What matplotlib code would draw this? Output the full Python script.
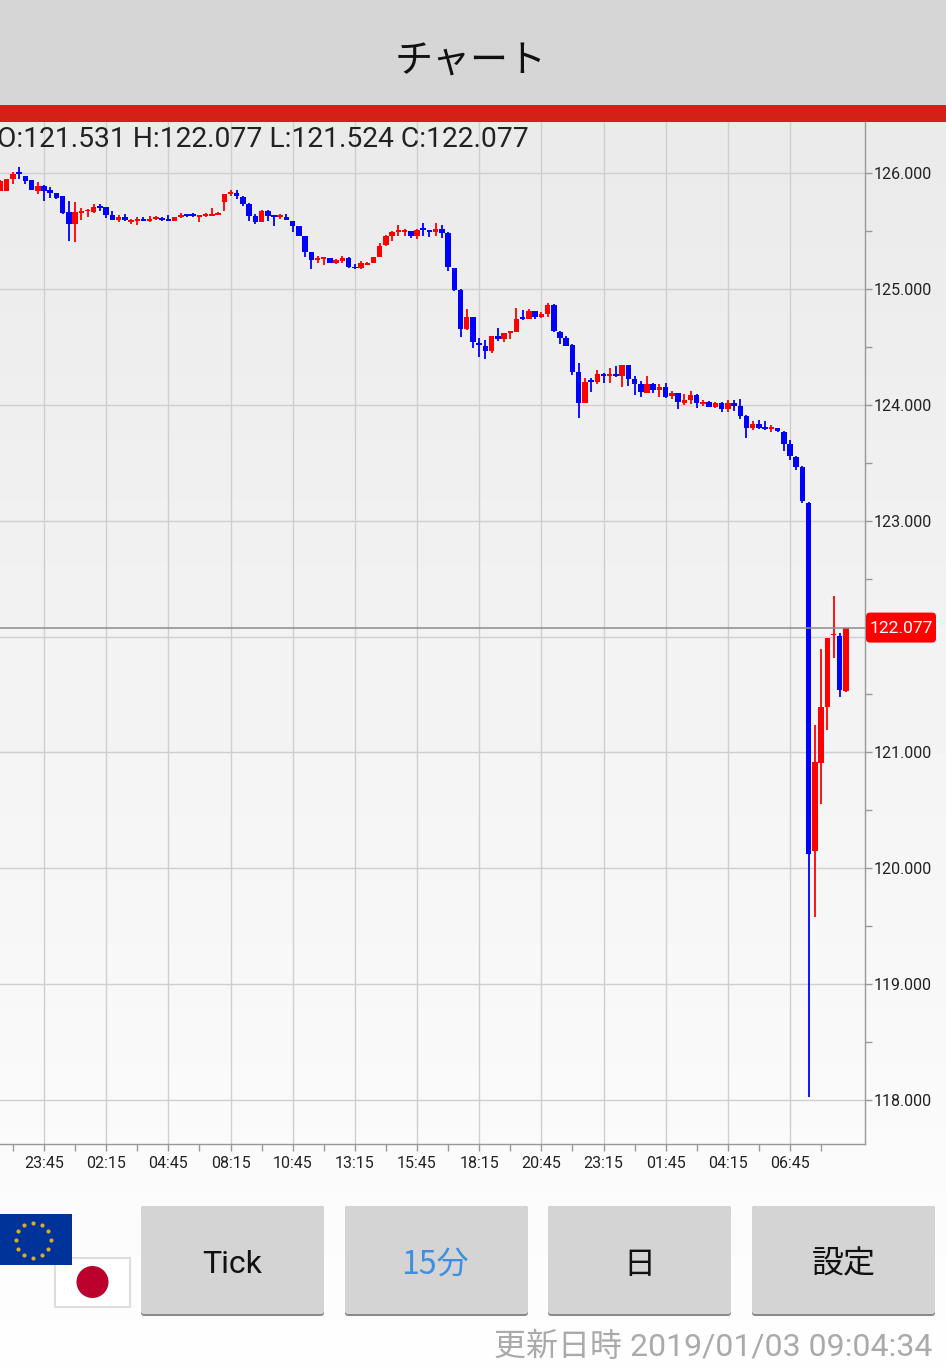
# -*- coding: utf-8 -*-
import numpy as np
import matplotlib
matplotlib.use("Agg")
import matplotlib.pyplot as plt
from matplotlib.patches import Rectangle, FancyBboxPatch, Circle

W, H = 946, 1367

# candles, 15 min each, oldest first
opens = [125.845, 125.848, 125.945, 126.000, 125.977, 125.940, 125.848, 125.891, 125.856, 125.825,
         125.799, 125.661, 125.560, 125.658, 125.669, 125.664, 125.704, 125.704, 125.641, 125.597,
         125.618, 125.580, 125.586, 125.594, 125.586, 125.600, 125.609, 125.597, 125.586, 125.623,
         125.632, 125.632, 125.623, 125.632, 125.629, 125.641, 125.753, 125.819, 125.825, 125.796,
         125.733, 125.629, 125.577, 125.675, 125.623, 125.618, 125.620, 125.590, 125.544, 125.460,
         125.314, 125.250, 125.259, 125.265, 125.224, 125.239, 125.270, 125.181, 125.178, 125.210,
         125.224, 125.279, 125.377, 125.454, 125.489, 125.489, 125.498, 125.452, 125.512, 125.503,
         125.492, 125.518, 125.483, 125.178, 124.994, 124.655, 124.759, 124.534, 124.508, 124.465,
         124.592, 124.566, 124.618, 124.626, 124.744, 124.738, 124.805, 124.753, 124.784, 124.865,
         124.632, 124.580, 124.513, 124.280, 124.013, 124.208, 124.197, 124.269, 124.249, 124.254,
         124.249, 124.343, 124.220, 124.177, 124.105, 124.177, 124.125, 124.154, 124.073, 124.099,
         124.018, 124.039, 124.087, 124.010, 124.024, 123.981, 124.016, 123.964, 124.016, 123.987,
         123.903, 123.797, 123.834, 123.800, 123.791, 123.797, 123.768, 123.659, 123.547, 123.460,
         123.155, 120.153, 120.905, 121.395, 122.009, 122.000, 121.531]
highs = [125.937, 125.951, 126.009, 126.049, 125.977, 125.943, 125.920, 125.894, 125.876, 125.827,
         125.804, 125.758, 125.753, 125.695, 125.687, 125.733, 125.735, 125.707, 125.669, 125.638,
         125.643, 125.603, 125.620, 125.618, 125.626, 125.629, 125.618, 125.635, 125.620, 125.652,
         125.646, 125.652, 125.632, 125.652, 125.695, 125.664, 125.819, 125.853, 125.850, 125.804,
         125.738, 125.643, 125.684, 125.684, 125.626, 125.646, 125.646, 125.590, 125.546, 125.460,
         125.316, 125.285, 125.268, 125.270, 125.259, 125.285, 125.279, 125.216, 125.239, 125.236,
         125.279, 125.397, 125.469, 125.503, 125.552, 125.518, 125.503, 125.518, 125.570, 125.512,
         125.567, 125.552, 125.489, 125.184, 124.997, 124.828, 124.761, 124.577, 124.560, 124.597,
         124.664, 124.621, 124.629, 124.836, 124.822, 124.828, 124.813, 124.799, 124.879, 124.868,
         124.638, 124.597, 124.527, 124.361, 124.231, 124.231, 124.297, 124.277, 124.315, 124.332,
         124.343, 124.346, 124.246, 124.205, 124.246, 124.185, 124.177, 124.185, 124.116, 124.102,
         124.093, 124.116, 124.093, 124.041, 124.033, 124.024, 124.021, 124.044, 124.044, 124.047,
         123.909, 123.857, 123.866, 123.857, 123.823, 123.800, 123.774, 123.699, 123.555, 123.475,
         123.165, 121.239, 121.888, 121.991, 122.349, 122.026, 122.077]
lows = [125.842, 125.842, 125.902, 125.945, 125.908, 125.850, 125.822, 125.756, 125.787, 125.776,
        125.643, 125.416, 125.408, 125.595, 125.618, 125.652, 125.669, 125.612, 125.592, 125.577,
        125.583, 125.560, 125.551, 125.586, 125.574, 125.594, 125.586, 125.586, 125.586, 125.615,
        125.623, 125.623, 125.577, 125.623, 125.626, 125.638, 125.675, 125.801, 125.779, 125.718,
        125.583, 125.557, 125.577, 125.583, 125.546, 125.606, 125.594, 125.489, 125.454, 125.273,
        125.173, 125.224, 125.204, 125.224, 125.213, 125.227, 125.184, 125.173, 125.173, 125.204,
        125.222, 125.279, 125.374, 125.417, 125.454, 125.454, 125.437, 125.429, 125.454, 125.446,
        125.454, 125.437, 125.158, 124.983, 124.586, 124.643, 124.488, 124.411, 124.396, 124.445,
        124.549, 124.540, 124.566, 124.626, 124.733, 124.736, 124.738, 124.747, 124.756, 124.626,
        124.526, 124.505, 124.254, 123.889, 124.013, 124.108, 124.182, 124.191, 124.185, 124.240,
        124.154, 124.159, 124.087, 124.067, 124.099, 124.099, 124.070, 124.062, 124.047, 123.964,
        123.995, 124.010, 123.970, 123.987, 123.978, 123.972, 123.941, 123.941, 123.947, 123.880,
        123.714, 123.780, 123.788, 123.783, 123.768, 123.768, 123.599, 123.524, 123.437, 123.150,
        118.030, 119.582, 120.556, 121.196, 121.818, 121.475, 121.524]
closes = [125.931, 125.948, 125.989, 125.991, 125.934, 125.850, 125.888, 125.845, 125.827, 125.781,
          125.658, 125.560, 125.661, 125.666, 125.678, 125.710, 125.695, 125.641, 125.597, 125.620,
          125.592, 125.592, 125.597, 125.586, 125.597, 125.609, 125.594, 125.589, 125.620, 125.635,
          125.626, 125.626, 125.629, 125.641, 125.635, 125.646, 125.816, 125.830, 125.801, 125.735,
          125.629, 125.574, 125.675, 125.629, 125.618, 125.629, 125.597, 125.546, 125.460, 125.316,
          125.250, 125.262, 125.265, 125.227, 125.247, 125.270, 125.187, 125.176, 125.219, 125.227,
          125.276, 125.374, 125.452, 125.492, 125.498, 125.498, 125.452, 125.512, 125.506, 125.492,
          125.518, 125.486, 125.187, 124.994, 124.658, 124.759, 124.540, 124.514, 124.468, 124.595,
          124.566, 124.615, 124.623, 124.744, 124.738, 124.805, 124.756, 124.782, 124.862, 124.635,
          124.580, 124.511, 124.283, 124.013, 124.200, 124.200, 124.269, 124.249, 124.254, 124.246,
          124.343, 124.220, 124.177, 124.108, 124.182, 124.125, 124.154, 124.067, 124.099, 124.021,
          124.039, 124.087, 124.013, 124.024, 123.981, 124.016, 123.964, 124.018, 123.987, 123.900,
          123.800, 123.834, 123.797, 123.791, 123.800, 123.771, 123.659, 123.555, 123.460, 123.167,
          120.121, 120.919, 121.392, 121.991, 122.017, 121.536, 122.077]

first_index = -7  # candle 0 is the one labelled 23:45
time_labels = ["23:45", "02:15", "04:45", "08:15", "10:45", "13:15", "15:45",
               "18:15", "20:45", "23:15", "01:45", "04:15", "06:45"]
price_ticks = [118, 119, 120, 121, 122, 123, 124, 125, 126]
ohlc_text = "O:121.531 H:122.077 L:121.524 C:122.077"
buttons = ["Tick", "15分", "日", "設定"]
footer = "更新日時 2019/01/03 09:04:34"

ROBOTO = ["Roboto", "Noto Sans CJK JP"]
CJK = ["Noto Sans CJK JP", "Roboto"]


def px(size):
    return size * 72 / 100


fig = plt.figure(figsize=(W / 100, H / 100), dpi=100)

# whole figure in pixels, for the app parts round the chart
ui = fig.add_axes([0, 0, 1, 1], zorder=0)
ui.set_xlim(0, W)
ui.set_ylim(H, 0)
ui.axis("off")

bg = np.linspace(0.918, 0.995, 256).reshape(-1, 1)
ui.imshow(bg, cmap="gray", vmin=0, vmax=1, extent=[0, W, H, 122], aspect="auto", zorder=0)
ui.set_xlim(0, W)
ui.set_ylim(H, 0)
ui.add_patch(Rectangle((0, 0), W, 105, fc="#d6d6d6", ec="none", zorder=1))
ui.add_patch(Rectangle((0, 105), W, 17, fc="#d42115", ec="none", zorder=2))
ui.text(470.5, 62, "チャート", family=CJK, fontsize=px(38), ha="center", va="center", color="#111111")

# flags
ui.add_patch(Rectangle((55, 1257.5), 75, 49.5, fc="white", ec="#dddddd", lw=1.5, zorder=2))
ui.add_patch(Circle((92.5, 1282), 16, fc="#bc002d", ec="none", zorder=3))
ui.add_patch(Rectangle((0, 1214), 71.5, 51, fc="#003399", ec="none", zorder=4))
star_angles = np.arange(12) * np.pi / 6
ui.scatter(33 + 17.5 * np.cos(star_angles), 1240 + 17.5 * np.sin(star_angles),
           s=9, marker="o", color="#d4b026", linewidths=0, zorder=5)

# buttons
button_x = [141, 345, 548, 752]
button_mid = [232.5, 435, 639, 844]
button_colors = ["#111111", "#3d8fe0", "#111111", "#111111"]
for x0, mid, label, col in zip(button_x, button_mid, buttons, button_colors):
    ui.add_patch(FancyBboxPatch((x0, 1206), 183, 110, boxstyle="round,pad=0,rounding_size=3",
                                fc="#8a8a8a", ec="none", zorder=2))
    ui.add_patch(FancyBboxPatch((x0, 1206), 183, 108, boxstyle="round,pad=0,rounding_size=3",
                                fc="#d4d4d4", ec="none", zorder=3))
    ui.text(mid, 1264.5, label, family=ROBOTO if label == "Tick" else CJK, fontsize=px(32),
            ha="center", va="center", color=col, zorder=4)
ui.text(932, 1347, footer, family=ROBOTO, fontsize=px(32), ha="right", va="center", color="#aaaaaa")

# chart
left, right, top, bottom = 0, 865, 122, 1144
ax = fig.add_axes([left / W, 1 - bottom / H, (right - left) / W, (bottom - top) / H], zorder=1)
ax.patch.set_alpha(0)

opens = np.array(opens)
highs = np.array(highs)
lows = np.array(lows)
closes = np.array(closes)
idx = np.arange(len(opens)) + first_index
up = closes >= opens
colors = np.where(up, "#ff0000", "#0000ff")

ax.vlines(idx, lows, highs, colors=colors, lw=1.3, zorder=3)
body_low = np.minimum(opens, closes)
body_h = np.maximum(np.abs(closes - opens), 0.016)
ax.bar(idx, body_h, bottom=body_low, width=0.88, color=colors, linewidth=0, zorder=4)

step = (790 - 44) / 120
ax.set_xlim((0 - 44) / step, (865 - 44) / step)
per_unit = (1100 - 173) / 8
ax.set_ylim(118 - (bottom - 1100) / per_unit, 126 + (173 - top) / per_unit)

ax.set_xticks(np.arange(len(time_labels)) * 10)
ax.set_xticklabels(time_labels)
ax.set_xticks(np.arange(-1, 26) * 5, minor=True)
ax.set_yticks(price_ticks)
ax.set_yticklabels(["%.3f" % p for p in price_ticks])
ax.set_yticks(np.arange(118, 126.5, 0.5), minor=True)
ax.yaxis.tick_right()
ax.grid(True, which="major", color="#cfcfcf", lw=1.0, zorder=1)
ax.set_axisbelow(True)
for side in ["top", "left"]:
    ax.spines[side].set_visible(False)
for side in ["right", "bottom"]:
    ax.spines[side].set_color("#999999")
    ax.spines[side].set_linewidth(1.0)
ax.tick_params(which="both", length=5, width=1.0, color="#999999")
ax.tick_params(axis="both", which="major", labelsize=px(16), labelcolor="#222222", pad=2)
ax.tick_params(axis="y", which="major", pad=1.5)
ax.tick_params(axis="x", which="major", pad=3.5)
for lab in ax.get_xticklabels() + ax.get_yticklabels():
    lab.set_family(ROBOTO)

# last price
last = closes[-1]
ax.axhline(last, color="#8c8c8c", lw=1.1, zorder=5)
ui_y = 173 + (126 - last) * per_unit

ax.text(-3 / 865, 1 - 18 / (bottom - top), ohlc_text, transform=ax.transAxes, family=ROBOTO,
        fontsize=px(28.3), color="#222222", ha="left", va="center", zorder=6, clip_on=False)

# label box goes above the chart axes so it hides the 122.000 tick label
over = fig.add_axes([0, 0, 1, 1], zorder=2)
over.set_xlim(0, W)
over.set_ylim(H, 0)
over.axis("off")
over.add_patch(FancyBboxPatch((868, ui_y - 13), 66, 26, boxstyle="round,pad=2,rounding_size=4",
                              fc="#ff0000", ec="none"))
over.text(901, ui_y + 1, "%.3f" % last, family=ROBOTO, fontsize=px(17.5), color="white", ha="center", va="center")

fig.savefig("out.png", dpi=100)
